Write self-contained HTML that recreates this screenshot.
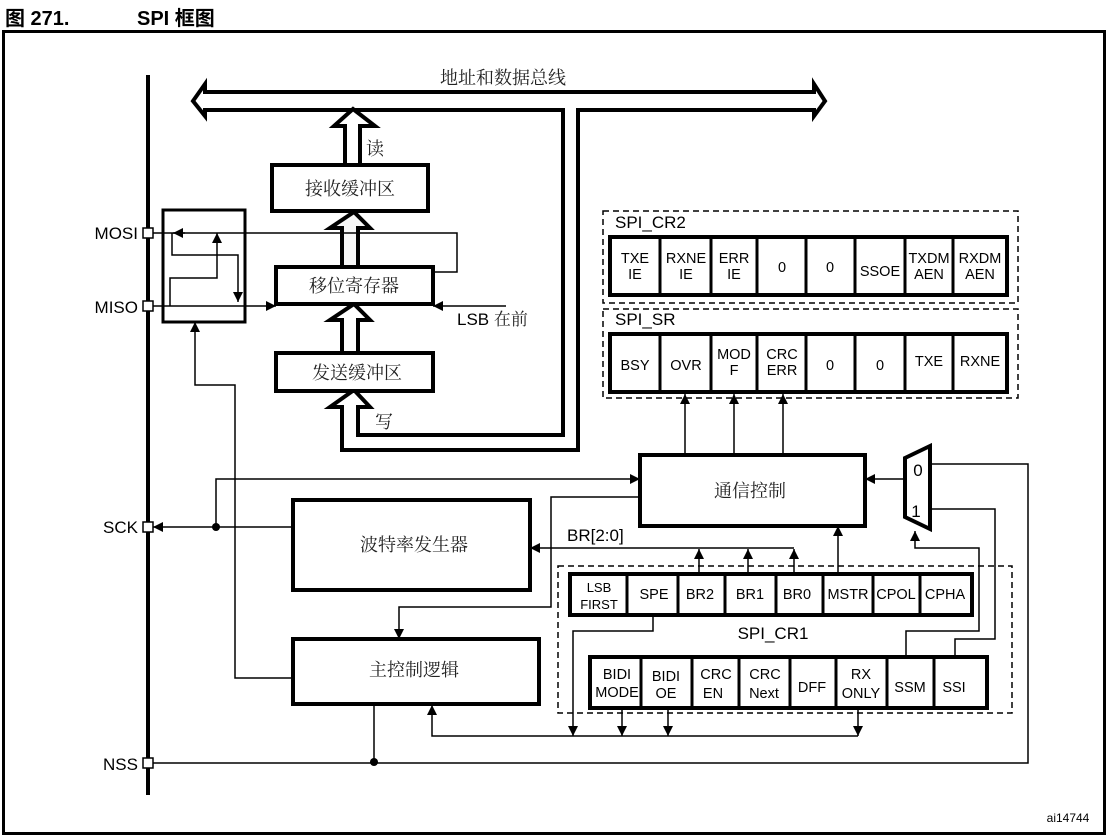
<!DOCTYPE html>
<html><head><meta charset="utf-8"><style>
html,body{margin:0;padding:0;background:#fff;}
svg{display:block;}
text{font-family:"Liberation Sans","Noto Sans CJK SC",sans-serif;fill:#000;}
.cj{font-family:"Liberation Serif","Noto Serif CJK SC",serif;font-size:18px;fill:#222;}
.r{font-size:14.5px;text-anchor:middle;}
</style></head><body>
<svg width="1108" height="837" viewBox="0 0 1108 837" xmlns="http://www.w3.org/2000/svg">
<defs>
<marker id="a" viewBox="0 0 10 10" refX="10" refY="5" markerWidth="10" markerHeight="10" markerUnits="userSpaceOnUse" orient="auto"><path d="M0,0 L10,5 L0,10 z" fill="#000"/></marker>
</defs>
<text x="5" y="25" style="font-size:20px;font-weight:bold">图 271.</text>
<text x="137" y="25" style="font-size:20px;font-weight:bold">SPI 框图</text>
<rect x="3.5" y="31.5" width="1101" height="802" fill="none" stroke="#000" stroke-width="3"/>
<line x1="148" y1="75" x2="148" y2="795" stroke="#000" stroke-width="4"/>
<text x="440" y="84" class="cj">地址和数据总线</text>
<polygon points="193,101 205,84 205,92 814,92 814,84 825,101 814,116 814,110 578,110 578,450 342,450 342,407 330,407 354,390 370,407 358,407 358,435 563,435 563,110 205,110 205,116" fill="#fff" stroke="#000" stroke-width="4" stroke-linejoin="miter"/>
<polygon points="345,165 345,126 334,126 353,109 375,126 360,126 360,165" fill="#fff" stroke="#000" stroke-width="4"/>
<text x="366" y="155" class="cj">读</text>
<text x="375" y="428" class="cj">写</text>
<polygon points="342,267 342,228 330,228 354,212 370,228 358,228 358,267" fill="#f7f7f7" stroke="#000" stroke-width="4"/>
<polygon points="342,353 342,320 330,320 354,304 370,320 358,320 358,353" fill="#fff" stroke="#000" stroke-width="4"/>
<rect x="272" y="165" width="156" height="46" fill="#fff" stroke="#000" stroke-width="4"/>
<text x="350" y="195" class="cj" text-anchor="middle">接收缓冲区</text>
<rect x="276" y="267" width="157" height="37" fill="#fff" stroke="#000" stroke-width="4"/>
<text x="354" y="292" class="cj" text-anchor="middle">移位寄存器</text>
<rect x="276" y="353" width="157" height="38" fill="#fff" stroke="#000" stroke-width="4"/>
<text x="357" y="379" class="cj" text-anchor="middle">发送缓冲区</text>
<rect x="163" y="210" width="82" height="112" fill="#fff" stroke="#000" stroke-width="3"/>
<g fill="none" stroke="#000" stroke-width="1.5">
<polyline points="433,272 457,272 457,233 152,233"/>
<line x1="185" y1="233" x2="173" y2="233" marker-end="url(#a)"/>
<polyline points="172,233 172,255 238,255 238,302" marker-end="url(#a)"/>
<polyline points="170,306 170,278 217,278 217,233" marker-end="url(#a)"/>
<line x1="152" y1="306" x2="276" y2="306" marker-end="url(#a)"/>
<line x1="506" y1="306" x2="433" y2="306" marker-end="url(#a)"/>
<polyline points="293,678 235,678 235,385 195,385 195,322" marker-end="url(#a)"/>
<line x1="293" y1="527" x2="153" y2="527" marker-end="url(#a)"/>
<polyline points="216,527 216,479 640,479" marker-end="url(#a)"/>
<polyline points="640,497 551,497 551,607 399,607 399,639" marker-end="url(#a)"/>
<line x1="794" y1="548" x2="530" y2="548" marker-end="url(#a)"/>
<line x1="699" y1="573" x2="699" y2="549" marker-end="url(#a)"/>
<line x1="748" y1="573" x2="748" y2="549" marker-end="url(#a)"/>
<line x1="794" y1="573" x2="794" y2="549" marker-end="url(#a)"/>
<line x1="838" y1="573" x2="838" y2="526" marker-end="url(#a)"/>
<line x1="685" y1="455" x2="685" y2="394" marker-end="url(#a)"/>
<line x1="734" y1="455" x2="734" y2="394" marker-end="url(#a)"/>
<line x1="783" y1="455" x2="783" y2="394" marker-end="url(#a)"/>
<line x1="905" y1="479" x2="865" y2="479" marker-end="url(#a)"/>
<polyline points="930,464 1028,464 1028,763 152,763"/>
<polyline points="930,509 995,509 995,639 955,639 955,657"/>
<polyline points="906,657 906,631 979,631 979,548 915,548 915,531" marker-end="url(#a)"/>
<polyline points="653,615 653,631 573,631 573,736" marker-end="url(#a)"/>
<polyline points="858,736 432,736 432,705" marker-end="url(#a)"/>
<line x1="622" y1="708" x2="622" y2="736" marker-end="url(#a)"/>
<line x1="668" y1="708" x2="668" y2="736" marker-end="url(#a)"/>
<line x1="858" y1="708" x2="858" y2="736" marker-end="url(#a)"/>
<line x1="374" y1="704" x2="374" y2="763"/>
</g>
<circle cx="216" cy="527" r="4" fill="#000"/>
<circle cx="374" cy="762" r="4" fill="#000"/>
<g fill="#fff" stroke="#000" stroke-width="1.5">
<rect x="143" y="228" width="10" height="10"/>
<rect x="143" y="301" width="10" height="10"/>
<rect x="143" y="522" width="10" height="10"/>
<rect x="143" y="758" width="10" height="10"/>
</g>
<g style="font-size:17px" text-anchor="end">
<text x="138" y="239">MOSI</text>
<text x="138" y="313">MISO</text>
<text x="138" y="533">SCK</text>
<text x="138" y="770">NSS</text>
</g>
<text x="457" y="325" style="font-size:17px">LSB <tspan class="cj" style="font-size:17px">在前</tspan></text>
<rect x="640" y="455" width="225" height="71" fill="#fff" stroke="#000" stroke-width="4"/>
<text x="750" y="497" class="cj" text-anchor="middle">通信控制</text>
<rect x="293" y="500" width="237" height="90" fill="#fff" stroke="#000" stroke-width="4"/>
<text x="414" y="551" class="cj" text-anchor="middle">波特率发生器</text>
<rect x="293" y="639" width="246" height="65" fill="#fff" stroke="#000" stroke-width="4"/>
<text x="414" y="676" class="cj" text-anchor="middle">主控制逻辑</text>
<polygon points="905,458 930,446 930,529 905,517" fill="#fff" stroke="#000" stroke-width="4"/>
<text x="918" y="476" style="font-size:17px" text-anchor="middle">0</text>
<text x="916" y="517" style="font-size:17px" text-anchor="middle">1</text>
<text x="567" y="541" style="font-size:17px">BR[2:0]</text>
<g fill="none" stroke="#000" stroke-width="1.5" stroke-dasharray="6,4">
<rect x="603" y="211" width="415" height="92"/>
<rect x="603" y="309" width="415" height="89"/>
<rect x="558" y="566" width="454" height="147"/>
</g>
<text x="615" y="228" style="font-size:17px">SPI_CR2</text>
<text x="615" y="325" style="font-size:17px">SPI_SR</text>
<text x="773" y="639" style="font-size:17px" text-anchor="middle">SPI_CR1</text>
<g fill="#fff" stroke="#000" stroke-width="4">
<rect x="610" y="237" width="397" height="58"/>
<rect x="610" y="334" width="397" height="58"/>
<rect x="570" y="574" width="402" height="41"/>
<rect x="590" y="657" width="397" height="51"/>
</g>
<g stroke="#000" stroke-width="3">
<path d="M660,237V295M711,237V295M757,237V295M806,237V295M855,237V295M905,237V295M953,237V295"/>
<path d="M660,334V392M711,334V392M757,334V392M806,334V392M855,334V392M905,334V392M953,334V392"/>
<path d="M627,574V615M678,574V615M725,574V615M776,574V615M823,574V615M873,574V615M920,574V615"/>
<path d="M641,657V708M692,657V708M739,657V708M790,657V708M836,657V708M887,657V708M934,657V708"/>
</g>
<g class="r">
<text x="635" y="263">TXE</text><text x="635" y="279">IE</text>
<text x="686" y="263">RXNE</text><text x="686" y="279">IE</text>
<text x="734" y="263">ERR</text><text x="734" y="279">IE</text>
<text x="782" y="272">0</text><text x="830" y="272">0</text>
<text x="880" y="276">SSOE</text>
<text x="929" y="263">TXDM</text><text x="929" y="279">AEN</text>
<text x="980" y="263">RXDM</text><text x="980" y="279">AEN</text>
<text x="635" y="370">BSY</text>
<text x="686" y="370">OVR</text>
<text x="734" y="359">MOD</text><text x="734" y="375">F</text>
<text x="782" y="359">CRC</text><text x="782" y="375">ERR</text>
<text x="830" y="370">0</text><text x="880" y="370">0</text>
<text x="929" y="366">TXE</text>
<text x="980" y="366">RXNE</text>
<text x="599" y="592" style="font-size:13px">LSB</text><text x="599" y="609" style="font-size:13px">FIRST</text>
<text x="654" y="599">SPE</text>
<text x="700" y="599">BR2</text>
<text x="750" y="599">BR1</text>
<text x="797" y="599">BR0</text>
<text x="848" y="599">MSTR</text>
<text x="896" y="599">CPOL</text>
<text x="945" y="599">CPHA</text>
<text x="617" y="679">BIDI</text><text x="617" y="697">MODE</text>
<text x="666" y="681">BIDI</text><text x="666" y="698">OE</text>
<text x="716" y="679">CRC</text><text x="713" y="698">EN</text>
<text x="765" y="679">CRC</text><text x="764" y="698">Next</text>
<text x="812" y="692">DFF</text>
<text x="861" y="679">RX</text><text x="861" y="698">ONLY</text>
<text x="910" y="692">SSM</text>
<text x="954" y="692">SSI</text>
</g>
<text x="1068" y="822" style="font-size:12px" text-anchor="middle">ai14744</text>
</svg>
</body></html>
